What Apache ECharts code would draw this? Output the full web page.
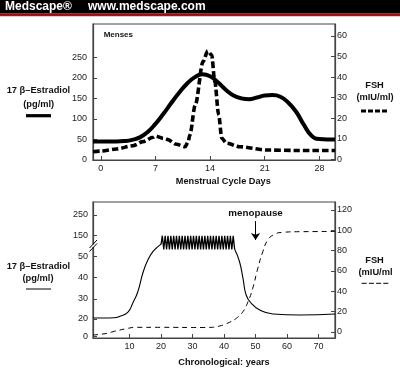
<!DOCTYPE html>
<html><head><meta charset="utf-8">
<script src="https://cdn.jsdelivr.net/npm/echarts@6/dist/echarts.min.js"></script>
<style>html,body{margin:0;padding:0;background:#fff}#c{width:400px;height:372px}</style>
</head><body><div id="c"></div>
<script>
// ---------- Top panel: menstrual cycle ----------
const cycleDays      = [-1, 0, 1, 2, 3, 4, 5, 6, 7, 8, 9, 10, 11, 12, 13, 14, 15, 16, 17, 18, 19, 20, 21, 22, 23, 24, 25, 26, 27, 28, 29, 30];
const cycleEstradiol = [45, 45, 45, 45, 46, 49, 55, 68, 88, 112, 138, 163, 185, 201, 209, 204, 189, 171, 157, 150, 148, 152, 157, 158, 154, 140, 118, 86, 59, 51, 50, 50];
const fshDays        = [-1, 0, 2, 4.1, 5.4, 6.7, 7, 8, 8.5, 9.7, 10.8, 11.2, 11.4, 12.1, 13.1, 13.7, 14.2, 14.6, 15.1, 15.5, 16.1, 17.8, 21.3, 25, 30];
const cycleFsh       = [3.7, 4, 5, 6.6, 8.6, 10.7, 11.3, 10.2, 9.7, 7.3, 6.1, 8.6, 11.8, 26.4, 47.5, 52.7, 50.7, 37.8, 21.6, 10.2, 7.8, 6.1, 4.5, 4.3, 4.3];
const dayTicks       = [0, 7, 14, 21, 28];
const topE2Ticks     = [0, 50, 100, 150, 200, 250];
const topFshTicks    = [0, 10, 20, 30, 40, 50, 60];

// ---------- Bottom panel: life span ----------
const riseAges       = [-1.6, 2, 5, 7, 9.5, 11, 12.6, 14.2, 15.8, 17.4, 19, 20];
const riseEstradiol  = [20.5, 20.5, 20.6, 21.4, 23.4, 27.9, 33.3, 42.1, 48.4, 73.8, 97.6, 109];
const cyclePeakAges  = [20.4, 21.3, 22.2, 23.1, 24.0, 24.9, 25.8, 26.7, 27.6, 28.5, 29.4, 30.3, 31.2, 32.1, 33.0, 33.9, 34.8, 35.7, 36.6, 37.5, 38.4, 39.3, 40.2, 41.1, 42.0, 42.9];
const cycleTroughAges= [20.85, 21.75, 22.65, 23.55, 24.45, 25.35, 26.25, 27.15, 28.05, 28.95, 29.85, 30.75, 31.65, 32.55, 33.45, 34.35, 35.25, 36.15, 37.05, 37.95, 38.85, 39.75, 40.65, 41.55, 42.45, 43.35];
const cyclePeakE2    = 150;
const cycleTroughE2  = 85;
const fallAges       = [43.35, 44.9, 46, 47, 48.6, 51.3, 55.5, 64, 75.2];
const fallEstradiol  = [85, 47.6, 39.7, 31.9, 27.9, 24.5, 22.5, 22, 22.5];
const lifeAges       = [-1.6, 3, 4.7, 9.5, 12, 20, 33, 35.4, 38.6, 41.7, 43.9, 46, 47.6, 49.1, 50.7, 52.3, 53.9, 56, 58.7, 64, 75.2];
const lifeFsh        = [-3, -1.3, 0.3, 3.6, 4.6, 4.6, 4.4, 4.5, 5.9, 9.5, 13.5, 20, 29.8, 43, 62.6, 79, 90.5, 96, 98, 98.6, 98.8];
const ageTicks       = [10, 20, 30, 40, 50, 60, 70];
const bottomE2Ticks  = [0, 20, 30, 40, 50, 150, 250];
const bottomFshTicks = [0, 20, 40, 60, 80, 100, 120];
const menopauseAge   = 50;

// Broken estradiol axis of the bottom panel (axis scale, as drawn)
const brokenScaleValues = [0, 20, 30, 40, 50, 150, 250];
const brokenScaleUnits  = [1.3, 19, 39, 60.3, 81.3, 102.3, 123];
function brokenScale(v){
  const a = brokenScaleValues, b = brokenScaleUnits;
  let i = 0;
  while (i < a.length - 2 && v > a[i+1]) i++;
  return b[i] + (v - a[i]) * (b[i+1] - b[i]) / (a[i+1] - a[i]);
}
function labelForUnit(u){
  let best = 0;
  brokenScaleUnits.forEach((x, i) => { if (Math.abs(x - u) < Math.abs(brokenScaleUnits[best] - u)) best = i; });
  return String(brokenScaleValues[best]);
}

const zip = (xs, ys) => xs.map((x, i) => [x, ys[i]]);
const zigzag = [];
cyclePeakAges.forEach((a, i) => {
  zigzag.push([a, brokenScale(cyclePeakE2)]);
  zigzag.push([cycleTroughAges[i], brokenScale(cycleTroughE2)]);
});

const FONT = 'Liberation Sans, Arial, Helvetica, sans-serif';
const AX = '#444';
const tickLabel = {fontFamily: FONT, fontSize: 9, color: '#222'};

function xAxisCfg(grid, min, max, ticks){
  return {type: 'value', gridIndex: grid, min, max,
    axisLine: {show: true, onZero: false, lineStyle: {color: AX, width: 1.2}},
    axisTick: {show: true, inside: true, length: 4, customValues: ticks, lineStyle: {color: AX, width: 1}},
    axisLabel: Object.assign({margin: 4, customValues: ticks}, tickLabel),
    splitLine: {show: false}};
}
function yAxisCfg(grid, pos, min, max, ticks, margin, formatter){
  const lab = Object.assign({margin, customValues: ticks}, tickLabel);
  if (formatter) lab.formatter = formatter;
  return {type: 'value', gridIndex: grid, position: pos, min, max,
    axisLine: {show: true, onZero: false, lineStyle: {color: AX, width: 1.2}},
    axisTick: {show: true, inside: true, length: 4, customValues: ticks, lineStyle: {color: AX, width: 1}},
    axisLabel: lab, splitLine: {show: false}};
}

const txt = (text, x, y, size, weight, align) => ({type: 'text', z: 100,
  style: {text, x, y, font: (weight || 'bold') + ' ' + size + 'px ' + FONT, fill: '#111',
    textAlign: align || 'center', textVerticalAlign: 'middle'}});
const seg = (x1, y1, x2, y2, w, dash) => ({type: 'line', z: 100,
  shape: {x1, y1, x2, y2}, style: {stroke: '#000', lineWidth: w, lineDash: dash || null}});

const option = {
  animation: false,
  grid: [
    {left: 93, top: 24, width: 242, height: 136, show: true, borderColor: AX, borderWidth: 1.2},
    {left: 93, top: 202, width: 242, height: 136, show: true, borderColor: AX, borderWidth: 1.2}
  ],
  xAxis: [xAxisCfg(0, -1, 30, dayTicks), xAxisCfg(1, -1.6, 75.2, ageTicks)],
  yAxis: [
    yAxisCfg(0, 'left', 0, 331, topE2Ticks, 6),
    yAxisCfg(0, 'right', -0.34, 65.8, topFshTicks, 2),
    yAxisCfg(1, 'left', 0, 136, bottomE2Ticks.map(brokenScale), 5, labelForUnit),
    yAxisCfg(1, 'right', -5.9, 127.8, bottomFshTicks, 2)
  ],
  series: [
    {type: 'line', xAxisIndex: 0, yAxisIndex: 0, data: zip(cycleDays, cycleEstradiol), showSymbol: false,
      smooth: 0.5, lineStyle: {color: '#000', width: 4}, silent: true},
    {type: 'line', xAxisIndex: 0, yAxisIndex: 1, data: zip(fshDays, cycleFsh), showSymbol: false,
      smooth: 0.3, smoothMonotone: 'x', lineStyle: {color: '#000', width: 3.6, type: [6.5, 3], cap: 'butt'}, silent: true},
    {type: 'line', xAxisIndex: 1, yAxisIndex: 2, data: riseAges.map((a, i) => [a, brokenScale(riseEstradiol[i])]),
      showSymbol: false, smooth: 0.5, lineStyle: {color: '#000', width: 1.1}, silent: true},
    {type: 'line', xAxisIndex: 1, yAxisIndex: 2, data: [[20, brokenScale(109)]].concat(zigzag),
      showSymbol: false, lineStyle: {color: '#000', width: 1.3}, silent: true},
    {type: 'line', xAxisIndex: 1, yAxisIndex: 2, data: fallAges.map((a, i) => [a, brokenScale(fallEstradiol[i])]),
      showSymbol: false, smooth: 0.5, lineStyle: {color: '#000', width: 1.1}, silent: true},
    {type: 'line', xAxisIndex: 1, yAxisIndex: 3, data: zip(lifeAges, lifeFsh), showSymbol: false,
      smooth: 0.5, lineStyle: {color: '#000', width: 1, type: [5, 4]}, silent: true,
      markLine: {silent: true, symbol: ['none', 'arrow'], symbolSize: 7, animation: false,
        lineStyle: {color: '#000', width: 1, type: 'solid'},
        label: {show: true, position: 'start', formatter: 'menopause', distance: 3,
          fontFamily: FONT, fontWeight: 'bold', fontSize: 9.8, color: '#111'},
        emphasis: {disabled: true},
        data: [[{coord: [menopauseAge, 109]}, {coord: [menopauseAge, 90.5]}]]}}
  ],
  graphic: [
    {type: 'rect', z: 100, shape: {x: 0, y: 0, width: 400, height: 13.5}, style: {fill: '#000'}},
    {type: 'rect', z: 100, shape: {x: 0, y: 13.5, width: 400, height: 2.7},
      style: {fill: new echarts.graphic.LinearGradient(0, 0, 0, 1, [{offset: 0, color: '#7a0a0a'}, {offset: 1, color: '#b51a1a'}])}},
    {type: 'text', z: 101, style: {text: 'Medscape®', x: 5, y: 7, font: 'bold 12px ' + FONT, fill: '#fff', textAlign: 'left', textVerticalAlign: 'middle'}},
    {type: 'text', z: 101, style: {text: 'www.medscape.com', x: 88, y: 7, font: 'bold 12px ' + FONT, fill: '#fff', textAlign: 'left', textVerticalAlign: 'middle'}},
    txt('Menses', 118.3, 34.3, 8),
    txt('17 β–Estradiol', 38.4, 90, 9.3),
    txt('(pg/ml)', 38.7, 104, 9.3),
    seg(26, 115.7, 51, 115.7, 3.2),
    txt('FSH', 374.5, 85, 9.3),
    txt('(mIU/ml)', 375, 97.3, 9.3),
    seg(361, 111, 387.3, 111, 3, [5, 2]),
    txt('Menstrual Cycle Days', 223.3, 181, 9.2),
    txt('17 β–Estradiol', 38.4, 266.7, 9.3),
    txt('(pg/ml)', 38, 278.3, 9.3),
    seg(26, 289, 51, 289, 1),
    txt('FSH', 374.5, 260, 9.3),
    txt('(mIU/ml', 375.5, 272.3, 9.3),
    seg(361.7, 283.3, 388.3, 283.3, 1, [5, 2.2]),
    txt('Chronological: years', 224, 362.7, 9.2),
    {type: 'rect', z: 100, shape: {x: 91.5, y: 244.6, width: 4, height: 2.4}, style: {fill: '#fff'}},
    seg(89.5, 248, 97, 240, 1),
    seg(89.5, 251.5, 97, 243.5, 1)
  ]
};
const chart = echarts.init(document.getElementById('c'), null, {renderer: 'canvas'});
chart.setOption(option);
</script></body></html>
